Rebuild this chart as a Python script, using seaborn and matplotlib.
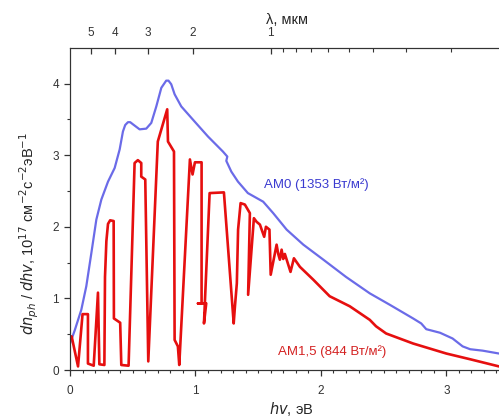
import numpy as np
import pandas as pd
import matplotlib
matplotlib.use("Agg")
import matplotlib.pyplot as plt
import seaborn as sns

# AM0 spectrum (photon energy, eV -> dn/dhv, 1e17)
am0_e = [0.0, 0.037, 0.09, 0.13, 0.17, 0.21, 0.25, 0.303, 0.356, 0.396, 0.422,
         0.44, 0.462, 0.48, 0.502, 0.555, 0.608, 0.648, 0.688, 0.728, 0.767,
         0.785, 0.807, 0.834, 0.887, 0.993, 1.10, 1.219, 1.254, 1.246, 1.286,
         1.339, 1.418, 1.54, 1.62, 1.727, 1.86, 2.02, 2.20, 2.39, 2.55, 2.735,
         2.80, 2.84, 2.95, 3.05, 3.13, 3.19, 3.29, 3.42]
am0_y = [0.37, 0.55, 0.84, 1.17, 1.63, 2.10, 2.38, 2.63, 2.82, 3.08, 3.33,
         3.42, 3.46, 3.46, 3.43, 3.36, 3.37, 3.45, 3.68, 3.94, 4.04,
         4.04, 3.99, 3.85, 3.68, 3.47, 3.26, 3.05, 2.98, 2.92, 2.77,
         2.63, 2.47, 2.35, 2.19, 1.96, 1.75, 1.54, 1.30, 1.07, 0.91, 0.72,
         0.65, 0.57, 0.52, 0.44, 0.33, 0.29, 0.27, 0.23]

# AM1.5 spectrum (digitised path, not monotonic in x)
am15_e = [0.013, 0.064, 0.10, 0.143, 0.143, 0.189, 0.223, 0.234, 0.274, 0.279,
          0.29, 0.303, 0.32, 0.348, 0.35, 0.40, 0.409, 0.467, 0.515, 0.541,
          0.568, 0.568, 0.60, 0.624, 0.70, 0.775, 0.781, 0.829, 0.834, 0.86,
          0.871, 0.956, 0.977, 0.996, 1.049, 1.049, 1.02, 1.086, 1.068, 1.113,
          1.227, 1.305, 1.315, 1.33, 1.34, 1.36, 1.394, 1.434, 1.42, 1.466,
          1.487, 1.514, 1.548, 1.562, 1.59, 1.60, 1.647, 1.66, 1.673, 1.687,
          1.70, 1.713, 1.758, 1.785, 1.833, 1.94, 2.07, 2.23, 2.39, 2.44, 2.52,
          2.735, 3.0, 3.19, 3.42]
am15_y = [0.47, 0.05, 0.78, 0.78, 0.09, 0.06, 1.08, 0.08, 0.07, 1.30,
          1.80, 2.04, 2.09, 2.08, 0.72, 0.66, 0.07, 0.06, 2.89, 2.93,
          2.89, 2.70, 2.66, 0.12, 3.19, 3.64, 3.19, 3.05, 0.42, 0.33,
          0.07, 2.94, 2.73, 2.90, 2.90, 0.93, 0.93, 0.93, 0.65, 2.47,
          2.48, 0.65, 0.89, 1.21, 1.96, 2.33, 2.31, 2.19, 1.05, 2.12,
          2.07, 2.03, 1.86, 2.00, 1.96, 1.33, 1.75, 1.62, 1.54, 1.68,
          1.55, 1.62, 1.37, 1.56, 1.44, 1.26, 1.03, 0.89, 0.70, 0.61, 0.51,
          0.37, 0.23, 0.15, 0.05]

# wavelength axis (positions in eV as printed on the original)
lam_major_pos = [0.165, 0.359, 0.619, 0.982, 1.599]
lam_major_lab = ["5", "4", "3", "2", "1"]
lam_minor_pos = [1.695, 1.80, 1.918, 2.058, 2.223, 2.417, 2.675, 3.041]

sns.set_style("ticks")
plt.rcParams["font.family"] = ["Liberation Sans", "DejaVu Sans"]
plt.rcParams["axes.edgecolor"] = "#333333"
plt.rcParams["xtick.color"] = "#333333"
plt.rcParams["ytick.color"] = "#333333"

fig = plt.figure(figsize=(4.99, 4.19), dpi=100)
ax = fig.add_axes([70 / 499, 1 - 370 / 419, 1 - 70 / 499, (370 - 47.7) / 419])

am0 = pd.DataFrame({"e": am0_e, "y": am0_y})
am15 = pd.DataFrame({"e": am15_e, "y": am15_y})
sns.lineplot(data=am0, x="e", y="y", sort=False, estimator=None, ax=ax,
             color="#6b6be8", lw=1.6)
sns.lineplot(data=am15, x="e", y="y", sort=False, estimator=None, ax=ax,
             color="#e60f0f", lw=1.9)

ax.set_xlim(0, 3.42)
ax.set_ylim(0, 4.5)
ax.spines["right"].set_visible(False)

ax.set_xticks([0, 1, 2, 3])
ax.set_xticks(np.arange(0, 3.45, 0.1), minor=True)
ax.set_yticks([0, 1, 2, 3, 4])
ax.set_yticks([0.5, 1.5, 2.5, 3.5], minor=True)
ax.tick_params(axis="both", which="major", labelsize=8.5, length=4.5, width=0.9,
               direction="out")
ax.tick_params(axis="both", which="minor", length=2.5, width=0.8, direction="out")
ax.tick_params(axis="x", pad=6)

ax.set_xlabel("$hv$, эВ", fontsize=10.5)
ax.xaxis.set_label_coords(0.515, -0.092)
ax.set_ylabel("$dn_{ph}$ / $dhv$, 10$^{17}$ см$^{-2}$с$^{-2}$эВ$^{-1}$",
              fontsize=10.5)
ax.yaxis.set_label_coords(-0.068, 0.425)

top = ax.twiny()
top.set_xlim(ax.get_xlim())
top.set_xticks(lam_major_pos)
top.set_xticklabels(lam_major_lab)
top.set_xticks(lam_minor_pos, minor=True)
top.tick_params(axis="x", which="major", labelsize=8.5, length=4, width=0.9,
                direction="in", pad=6.5)
top.tick_params(axis="x", which="minor", length=3, width=0.8, direction="in")
top.spines["right"].set_visible(False)
top.set_xlabel("λ, мкм", fontsize=10.5)
top.xaxis.set_label_coords(0.505, 1.072)

ax.text(1.55, 2.59, "AM0 (1353 Вт/м²)", color="#3a3ad0", fontsize=9.5,
        va="center", ha="left")
ax.text(1.66, 0.26, "AM1,5 (844 Вт/м²)", color="#d42222", fontsize=9.5,
        va="center", ha="left")

fig.savefig("out.png", dpi=100)
